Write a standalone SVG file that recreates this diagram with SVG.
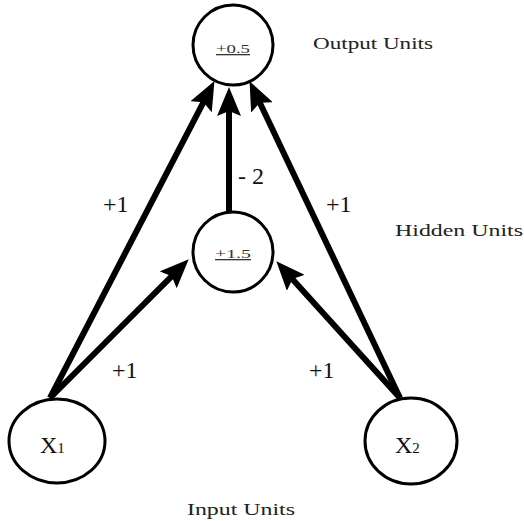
<svg xmlns="http://www.w3.org/2000/svg" width="524" height="521" viewBox="0 0 524 521">
<style>
.node{fill:#fff;stroke:#000;stroke-width:3}
.conn{stroke:#000;stroke-width:6;fill:none;marker-end:url(#ah)}
.lbl{font-family:"Liberation Serif",serif;font-size:17px;fill:#222}
.w{font-family:"Liberation Serif",serif;font-size:24px;fill:#111}
.th{font-family:"Liberation Serif",serif;font-size:13px;fill:#333;text-decoration:underline}
.x{font-family:"Liberation Serif",serif;font-size:24px;fill:#111}
</style>
<defs>
<marker id="ah" markerUnits="userSpaceOnUse" markerWidth="30" markerHeight="24" viewBox="0 0 30 24" refX="10" refY="12" orient="auto">
<path d="M0,0 L29,12 L0,24 L5,12 z" fill="#000"/>
</marker>
</defs>
<rect width="524" height="521" fill="#fff"/>
<g id="connectors">
<line class="conn" x1="50" y1="398" x2="205.7" y2="97.9"/>
<line class="conn" x1="400" y1="398" x2="257.7" y2="98.3"/>
<line class="conn" x1="50" y1="398" x2="175.3" y2="272.7"/>
<line class="conn" x1="400" y1="398" x2="289.1" y2="275.4"/>
<line class="conn" x1="229" y1="212" x2="229" y2="106"/>
</g>
<g id="output">
<circle class="node" cx="233" cy="45" r="40"/>
<text class="th" x="216" y="53" textLength="34" lengthAdjust="spacingAndGlyphs">+0.5</text>
</g>
<g id="hidden">
<circle class="node" cx="233" cy="252" r="40"/>
<text class="th" x="215" y="258" textLength="36" lengthAdjust="spacingAndGlyphs">+1.5</text>
</g>
<g id="x1">
<ellipse class="node" cx="57" cy="441" rx="48" ry="42"/>
<text class="x" x="40" y="453">X<tspan font-size="15">1</tspan></text>
</g>
<g id="x2">
<ellipse class="node" cx="411" cy="441" rx="46" ry="43"/>
<text class="x" x="395" y="453">X<tspan font-size="15">2</tspan></text>
</g>
<g id="labels">
<text class="lbl" x="313" y="49" textLength="120" lengthAdjust="spacingAndGlyphs">Output Units</text>
<text class="lbl" x="395" y="236" textLength="128" lengthAdjust="spacingAndGlyphs">Hidden Units</text>
<text class="lbl" x="187" y="515" textLength="108" lengthAdjust="spacingAndGlyphs">Input Units</text>
<text class="w" x="103" y="212">+1</text>
<text class="w" x="238" y="184">- 2</text>
<text class="w" x="326" y="212">+1</text>
<text class="w" x="112" y="378">+1</text>
<text class="w" x="309" y="378">+1</text>
</g>
</svg>
